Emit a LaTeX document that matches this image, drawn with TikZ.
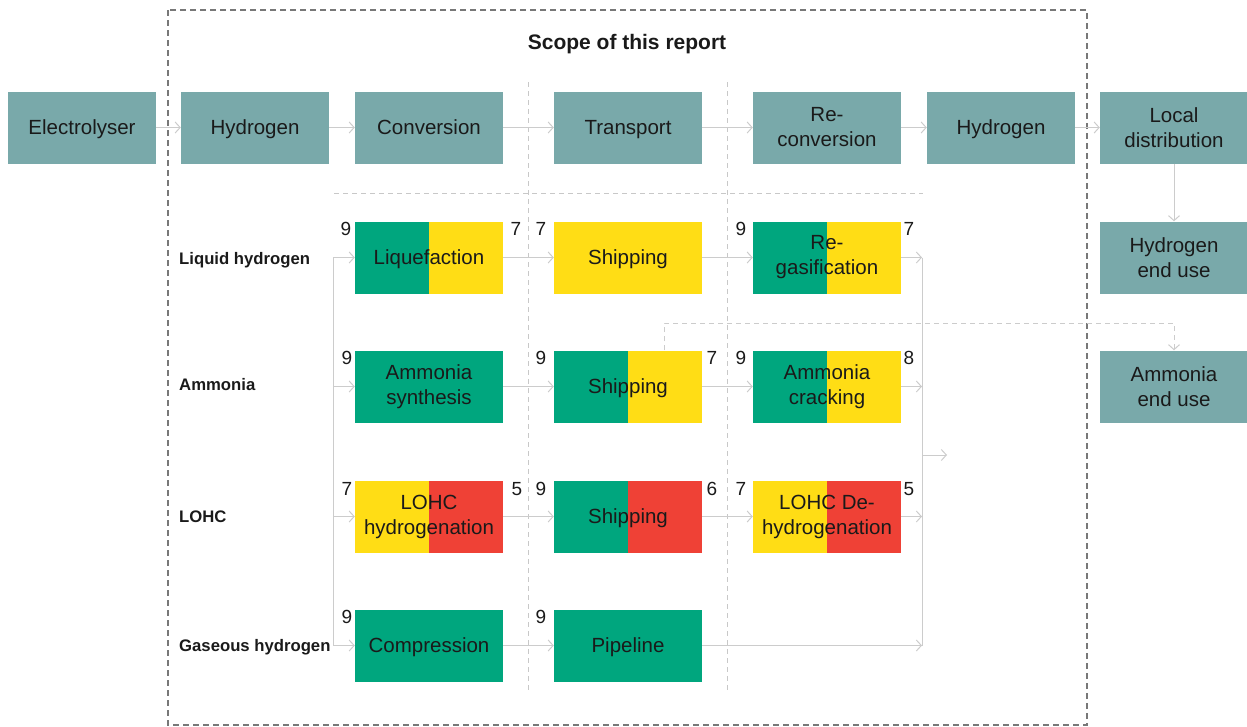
\documentclass[tikz,border=0pt]{standalone}
\usepackage{fontspec}
\setmainfont{Liberation Sans}
\usepackage{xcolor}
\usetikzlibrary{arrows.meta}
\definecolor{hteal}{RGB}{121,169,170}
\definecolor{hgreen}{RGB}{0,166,126}
\definecolor{hyellow}{RGB}{255,221,21}
\definecolor{hred}{RGB}{239,65,54}
\definecolor{flowgray}{RGB}{204,204,204}
\definecolor{gridgray}{RGB}{200,200,200}
\definecolor{scopegray}{RGB}{120,120,120}
\definecolor{ink}{RGB}{26,26,26}
\tikzset{
    box/.style={minimum width=148pt,minimum height=72pt,inner sep=0pt,align=center,text=ink,font=\fontsize{20.5}{25}\selectfont},
    one/.style={text height=14.5pt,text depth=0pt},
    stage/.style={box,fill=hteal},
    splitbox/.style 2 args={box,fill=#2,path picture={\fill[#1] (path picture bounding box.south west) rectangle (path picture bounding box.north);}},
    flow/.style={draw=flowgray,line width=1pt,-{Straight Barb[length=5pt,width=11pt]}},
    bus/.style={draw=flowgray,line width=1pt},
    score/.style={inner sep=0pt,text=ink,font=\fontsize{19}{22}\selectfont},
    route/.style={anchor=base west,inner sep=0pt,text=ink,font=\bfseries\fontsize{16.7}{20}\selectfont},
}

\begin{document}
\begin{tikzpicture}[x=1pt,y=-1pt]
                \useasboundingbox (0,0) rectangle (1247,726);
                % scope frame and column guides
                \draw [scopegray,line width=1.2pt,dash pattern=on 6pt off 4pt] (168,10) rectangle (1087,725);
                \draw [gridgray,line width=0.8pt,dash pattern=on 5pt off 4pt] (334,193)-- (923,193);
                \draw [gridgray,line width=0.8pt,dash pattern=on 5pt off 4pt] (528,82)-- (528,693);
                \draw [gridgray,line width=0.8pt,dash pattern=on 5pt off 4pt] (727,82)-- (727,693);
                \node [text=ink,font=\bfseries\fontsize{21}{24}\selectfont] (scope) at (627,44) {Scope of this report};
                % top chain
                \node [stage,one] (elec) at (82,127.5) {Electrolyser};
                \node [stage,one] (hyda) at (255,127.5) {Hydrogen};
                \node [stage,one] (conv) at (429,127.5) {Conversion};
                \node [stage,one] (trans) at (628,127.5) {Transport};
                \node [stage] (reconv) at (827,127.5) {Re-\\conversion};
                \node [stage,one] (hydb) at (1001,127.5) {Hydrogen};
                \node [stage] (local) at (1174,127.5) {Local\\distribution};
                \node [stage] (hend) at (1174,257.5) {Hydrogen\\end use};
                \node [stage] (aend) at (1174,386.5) {Ammonia\\end use};
                \draw [flow] (elec)-- (hyda);
                \draw [flow] (hyda)-- (conv);
                \draw [flow] (conv)-- (trans);
                \draw [flow] (trans)-- (reconv);
                \draw [flow] (reconv)-- (hydb);
                \draw [flow] (hydb)-- (local);
                \draw [flow] (local)-- (hend);
                % routes
                \node [route] (rliq) at (179,264) {Liquid hydrogen};
                \node [route] (ramm) at (179,390) {Ammonia};
                \node [route] (rlohc) at (179,522) {LOHC};
                \node [route] (rgas) at (179,651) {Gaseous hydrogen};
                \node [splitbox={hgreen}{hyellow},one] (liq) at (429,257.5) {Liquefaction};
                \node [box,fill=hyellow,one] (lship) at (628,257.5) {Shipping};
                \node [splitbox={hgreen}{hyellow}] (regas) at (827,257.5) {Re-\\gasification};
                \node [box,fill=hgreen] (asyn) at (429,386.5) {Ammonia\\synthesis};
                \node [splitbox={hgreen}{hyellow},one] (aship) at (628,386.5) {Shipping};
                \node [splitbox={hgreen}{hyellow}] (acrack) at (827,386.5) {Ammonia\\cracking};
                \node [splitbox={hyellow}{hred}] (lhyd) at (429,516.5) {LOHC\\hydrogenation};
                \node [splitbox={hgreen}{hred},one] (oship) at (628,516.5) {Shipping};
                \node [splitbox={hyellow}{hred}] (ldehyd) at (827,516.5) {LOHC De-\\hydrogenation};
                \node [box,fill=hgreen,one] (comp) at (429,645.5) {Compression};
                \node [box,fill=hgreen,one] (pipe) at (628,645.5) {Pipeline};
                % feed bus
                \coordinate (inA) at (333,257.5);
                \coordinate (inB) at (333,386.5);
                \coordinate (inC) at (333,516.5);
                \coordinate (inD) at (333,645.5);
                \draw [bus] (inA)-- (inD);
                \draw [flow] (inA)-- (liq);
                \draw [flow] (inB)-- (asyn);
                \draw [flow] (inC)-- (lhyd);
                \draw [flow] (inD)-- (comp);
                \draw [flow] (liq)-- (lship);
                \draw [flow] (lship)-- (regas);
                \draw [flow] (asyn)-- (aship);
                \draw [flow] (aship)-- (acrack);
                \draw [flow] (lhyd)-- (oship);
                \draw [flow] (oship)-- (ldehyd);
                \draw [flow] (comp)-- (pipe);
                % out bus
                \coordinate (outA) at (922,257.5);
                \coordinate (outB) at (922,386.5);
                \coordinate (outC) at (922,516.5);
                \coordinate (outD) at (922,645.5);
                \coordinate (outM) at (922,455);
                \coordinate (outE) at (947,455);
                \draw [bus] (outA)-- (outD);
                \draw [flow] (regas)-- (outA);
                \draw [flow] (acrack)-- (outB);
                \draw [flow] (ldehyd)-- (outC);
                \draw [flow] (pipe)-- (outD);
                \draw [flow] (outM)-- (outE);
                \draw [flow,dash pattern=on 5pt off 4pt] ([xshift=36pt]aship.north)-- ++(0,-27) -| (aend.north);
                % scores
                \node [score] (s1) at (346,229) {9};
                \node [score] (s2) at (516,229) {7};
                \node [score] (s3) at (541,229) {7};
                \node [score] (s4) at (741,229) {9};
                \node [score] (s5) at (909,229) {7};
                \node [score] (s6) at (347,358) {9};
                \node [score] (s7) at (541,358) {9};
                \node [score] (s8) at (712,358) {7};
                \node [score] (s9) at (741,358) {9};
                \node [score] (s10) at (909,358) {8};
                \node [score] (s11) at (347,489) {7};
                \node [score] (s12) at (517,489) {5};
                \node [score] (s13) at (541,489) {9};
                \node [score] (s14) at (712,489) {6};
                \node [score] (s15) at (741,489) {7};
                \node [score] (s16) at (909,489) {5};
                \node [score] (s17) at (347,617) {9};
                \node [score] (s18) at (541,617) {9};
\end{tikzpicture}
\end{document}
